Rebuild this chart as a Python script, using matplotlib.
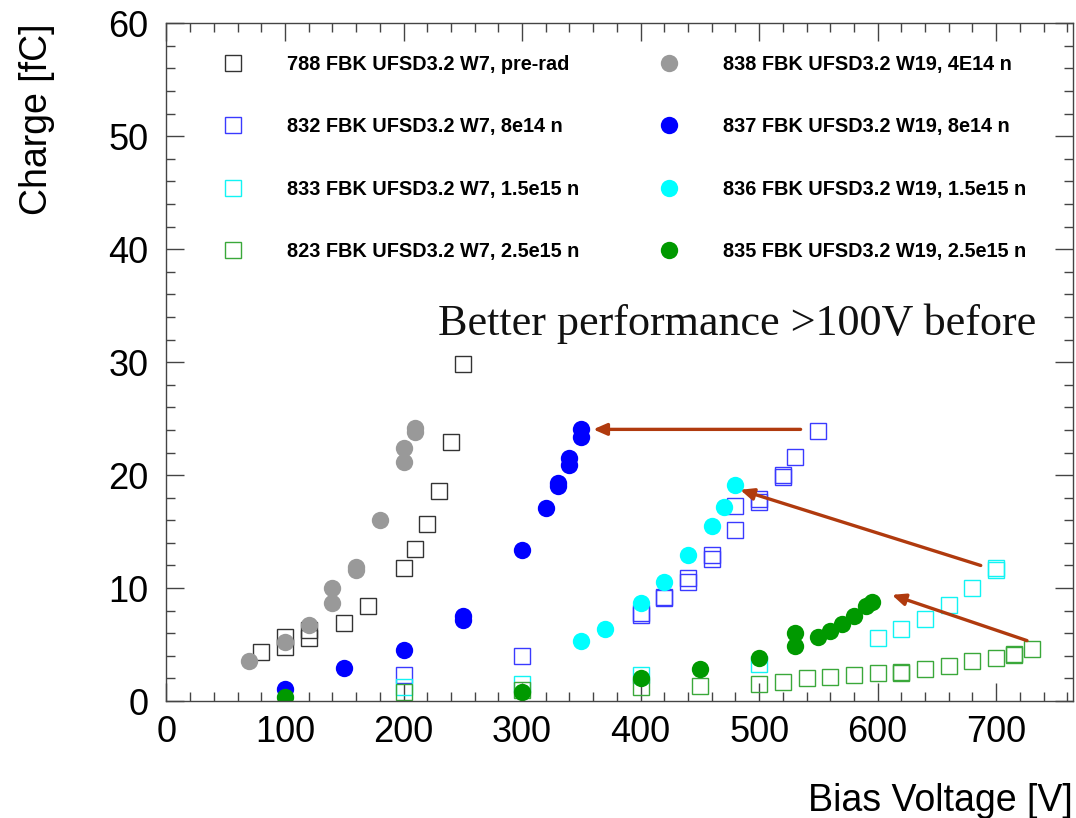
import matplotlib.pyplot as plt
from matplotlib.ticker import MultipleLocator

plt.rcParams['font.family'] = ['Liberation Sans', 'DejaVu Sans']

# W7 (open squares)
v_788 = [80, 100, 100, 120, 120, 150, 170, 200, 210, 220, 230, 240, 250]
q_788 = [4.3, 5.7, 4.8, 6.3, 5.55, 6.9, 8.4, 11.8, 13.5, 15.7, 18.6, 22.9, 29.8]

v_832 = [200, 300, 400, 400, 420, 420, 440, 440, 460, 460, 480, 480, 500, 500, 520, 520, 530, 550]
q_832 = [2.3, 4.0, 7.8, 7.65, 9.25, 9.1, 10.9, 10.55, 12.9, 12.6, 17.3, 15.1, 17.9, 17.6, 20.0, 19.8, 21.6, 23.9]

v_833 = [200, 300, 400, 500, 600, 620, 640, 660, 680, 700, 700]
q_833 = [1.2, 1.5, 2.3, 3.3, 5.6, 6.35, 7.3, 8.5, 10.0, 11.6, 11.8]

v_823 = [200, 300, 400, 450, 500, 520, 540, 560, 580, 600, 620, 620, 640, 660, 680, 700, 715, 715, 730]
q_823 = [0.8, 1.0, 1.2, 1.35, 1.55, 1.65, 2.05, 2.15, 2.3, 2.45, 2.6, 2.5, 2.8, 3.1, 3.5, 3.85, 4.15, 4.05, 4.6]

# W19 (filled circles)
v_838 = [70, 100, 120, 140, 140, 160, 160, 180, 200, 200, 210, 210]
q_838 = [3.5, 5.2, 6.7, 8.7, 10.0, 11.6, 11.9, 16.0, 21.2, 22.4, 23.8, 24.2]

v_837 = [100, 150, 200, 250, 250, 300, 320, 330, 330, 340, 340, 350, 350]
q_837 = [1.1, 2.9, 4.5, 7.2, 7.5, 13.4, 17.1, 19.0, 19.3, 20.9, 21.5, 23.35, 24.1]

v_836 = [350, 370, 400, 420, 440, 460, 470, 480]
q_836 = [5.3, 6.35, 8.7, 10.5, 12.9, 15.5, 17.2, 19.1]

v_835 = [100, 300, 400, 450, 500, 530, 530, 550, 560, 570, 580, 590, 595]
q_835 = [0.35, 0.8, 2.0, 2.8, 3.85, 4.9, 6.0, 5.7, 6.2, 6.8, 7.5, 8.4, 8.8]

labels_w7 = ['788 FBK UFSD3.2 W7, pre-rad', '832 FBK UFSD3.2 W7, 8e14 n',
             '833 FBK UFSD3.2 W7, 1.5e15 n', '823 FBK UFSD3.2 W7, 2.5e15 n']
labels_w19 = ['838 FBK UFSD3.2 W19, 4E14 n', '837 FBK UFSD3.2 W19, 8e14 n',
              '836 FBK UFSD3.2 W19, 1.5e15 n', '835 FBK UFSD3.2 W19, 2.5e15 n']

w7_series = [(v_788, q_788, '#333333'), (v_832, q_832, '#3a3aff'),
             (v_833, q_833, '#11f4f4'), (v_823, q_823, '#3aa83a')]
w19_series = [(v_838, q_838, '#999999'), (v_837, q_837, '#0000ff'),
              (v_836, q_836, '#00ffff'), (v_835, q_835, '#009900')]

# arrows: (tail V, tail Q) -> (head V, head Q)
arrows = [((535, 24.05), (360, 24.05)),
          ((687, 12.0), (484, 18.7)),
          ((726, 5.35), (612, 9.4))]

fig = plt.figure(figsize=(10.76, 8.18), dpi=100)
ax = fig.add_axes([0.1547, 0.143, 0.8427, 0.8285])

h7 = []
for (v, q, c), lab in zip(w7_series, labels_w7):
    h, = ax.plot(v, q, 's', ms=12, mfc='none', mec=c, mew=1.0, label=lab)
    h7.append(h)
h19 = []
for (v, q, c), lab in zip(w19_series, labels_w19):
    h, = ax.plot(v, q, 'o', ms=12.5, mfc=c, mec=c, mew=0, label=lab)
    h19.append(h)

for (x0, y0), (x1, y1) in arrows:
    ax.annotate('', xy=(x1, y1), xytext=(x0, y0),
                arrowprops=dict(arrowstyle='-|>,head_length=0.8,head_width=0.35',
                                color='#b03a0e', lw=2.4, shrinkA=0, shrinkB=0))

ax.text(229, 32.4, 'Better performance >100V before', family=['Liberation Serif', 'DejaVu Serif'],
        fontsize=31.8, color='#111111')

ax.set_xlim(0, 765)
ax.set_ylim(0, 60)
ax.xaxis.set_major_locator(MultipleLocator(100))
ax.xaxis.set_minor_locator(MultipleLocator(20))
ax.yaxis.set_major_locator(MultipleLocator(10))
ax.yaxis.set_minor_locator(MultipleLocator(2))
ax.tick_params(which='both', direction='in', top=True, right=True, color='#444444', labelsize=26)
ax.tick_params(which='major', length=13, width=1)
ax.tick_params(which='minor', length=6.5, width=1)
ax.tick_params(axis='x', pad=10)
ax.tick_params(axis='y', pad=13)
for s in ax.spines.values():
    s.set_color('#444444')
    s.set_linewidth(1)

ax.set_xlabel('Bias Voltage [V]', fontsize=27, loc='right', labelpad=24)
ax.set_ylabel('Charge [fC]', fontsize=27, loc='top', labelpad=38)

leg_kw = dict(loc='upper left', bbox_transform=fig.transFigure, frameon=False, borderpad=0,
              handlelength=2, handletextpad=1.75, labelspacing=2.18,
              prop={'weight': 'bold', 'size': 14.3})
leg1 = ax.legend(handles=h7, bbox_to_anchor=(203 / 1076, 1 - 45 / 818), **leg_kw)
ax.add_artist(leg1)
ax.legend(handles=h19, bbox_to_anchor=(639 / 1076, 1 - 45 / 818), **leg_kw)

fig.savefig('out.png', dpi=100)
